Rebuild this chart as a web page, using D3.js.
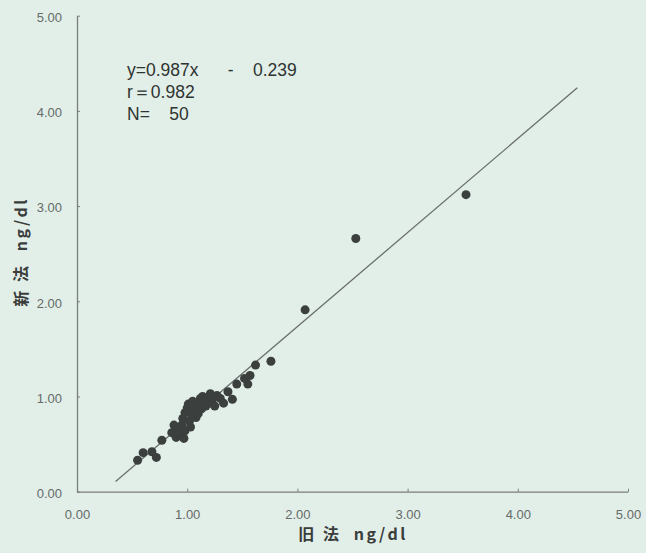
<!DOCTYPE html>
<html>
<head>
<meta charset="utf-8">
<script src="https://cdn.jsdelivr.net/npm/d3@7"></script>
<style>
  html, body { margin: 0; padding: 0; background: #e1efe8; }
  svg { display: block; }
  text { font-family: "Liberation Sans", Arial, sans-serif; }
</style>
</head>
<body>
<div id="chart"></div>
<script>
const width = 646;
const height = 553;

// old method (x) vs new method (y), ng/dl
const oldMethod = [0.55, 0.60, 0.68, 0.72, 0.77,
    0.86, 0.88, 0.90, 0.92, 0.94, 0.95, 0.97, 0.98, 0.96, 0.98, 1.00,
    1.01, 1.02, 1.03, 1.04, 1.05, 1.06, 1.08, 1.08, 1.10, 1.11, 1.12, 1.13,
    1.14, 1.15, 1.17, 1.19, 1.20, 1.21, 1.23, 1.25, 1.27, 1.30, 1.33,
    1.37, 1.41, 1.45, 1.52, 1.55, 1.57, 1.62, 1.76,
    2.07, 2.53, 3.53];
const newMethod = [0.33, 0.41, 0.42, 0.36, 0.54,
    0.62, 0.70, 0.57, 0.66, 0.60, 0.70, 0.56, 0.64, 0.77, 0.83, 0.88,
    0.92, 0.74, 0.68, 0.80, 0.95, 0.85, 0.89, 0.78, 0.82, 0.92, 0.98, 0.87,
    1.00, 0.95, 0.90, 0.98, 0.93, 1.03, 0.97, 0.90, 1.01, 0.98, 0.93,
    1.05, 0.97, 1.13, 1.19, 1.13, 1.22, 1.33, 1.37,
    1.91, 2.66, 3.12];

const tickValues = [0, 1, 2, 3, 4, 5];
const slope = 0.987;
const intercept = -0.239;
const lineRange = [0.35, 4.54];
const statLines = ["y=0.987x      -    0.239", "r\uFF1D0.982", "N=    50"];

const points = oldMethod.map((d, i) => ({x: d, y: newMethod[i]}));

const svg = d3.select('#chart')
    .append('svg')
        .attr('width', width)
        .attr('height', height);

const x = d3.scaleLinear().domain([0, 5]).range([77, 628]);
const y = d3.scaleLinear().domain([0, 5]).range([491.7, 15.7]);

// axes, ticks point inward
const xAxis = d3.axisBottom(x)
    .tickValues(tickValues)
    .tickSizeInner(-3)
    .tickSizeOuter(0)
    .tickPadding(18)
    .tickFormat(d3.format('.2f'));

const yAxis = d3.axisLeft(y)
    .tickValues(tickValues)
    .tickSizeInner(-3)
    .tickSizeOuter(0)
    .tickPadding(15)
    .tickFormat(d3.format('.2f'));

const gx = svg.append('g')
    .attr('transform', 'translate(0,' + y(0) + ')')
    .call(xAxis);
const gy = svg.append('g')
    .attr('transform', 'translate(' + x(0) + ',0)')
    .call(yAxis);

[gx, gy].forEach(g => {
    g.select('.domain').attr('stroke', '#7a7f7c').attr('stroke-width', 1.3);
    g.selectAll('.tick line').attr('stroke', '#7a7f7c');
    g.selectAll('.tick text')
        .attr('fill', '#666a68')
        .style('font-size', '13px')
        .style('font-family', '"Liberation Sans", Arial, sans-serif');
});
gy.selectAll('.tick text').attr('dy', '0.45em');

// regression line
const line = d3.line()
    .x(d => x(d))
    .y(d => y(slope * d + intercept));

svg.append('path')
    .datum(lineRange)
    .attr('d', line)
    .attr('fill', 'none')
    .attr('stroke', '#6b6f6d')
    .attr('stroke-width', 1.3);

// points
svg.append('g')
    .selectAll('circle')
    .data(points)
    .enter()
    .append('circle')
        .attr('cx', d => x(d.x))
        .attr('cy', d => y(d.y))
        .attr('r', 4.5)
        .attr('fill', '#3b3f3d');

// stats text
svg.append('g')
    .selectAll('text')
    .data(statLines)
    .enter()
    .append('text')
        .attr('x', 127)
        .attr('y', (d, i) => 76 + i * 22)
        .style('white-space', 'pre')
        .style('font-size', '17.5px')
        .attr('fill', '#2f3331')
        .text(d => d);

// axis titles
svg.append('text')
    .attr('x', 353)
    .attr('y', 540)
    .attr('text-anchor', 'middle')
    .style('white-space', 'pre')
    .style('font-size', '16px')
    .style('letter-spacing', '2.5px')
    .style('font-weight', 'bold')
    .style('font-family', '"Noto Sans CJK JP", sans-serif')
    .attr('fill', '#3a3d3c')
    .text('旧 法  ng/dl');

svg.append('text')
    .attr('transform', 'translate(27,252) rotate(-90)')
    .attr('text-anchor', 'middle')
    .style('white-space', 'pre')
    .style('font-size', '16px')
    .style('letter-spacing', '2.5px')
    .style('font-weight', 'bold')
    .style('font-family', '"Noto Sans CJK JP", sans-serif')
    .attr('fill', '#3a3d3c')
    .text('新 法  ng/dl');
</script>
</body>
</html>
